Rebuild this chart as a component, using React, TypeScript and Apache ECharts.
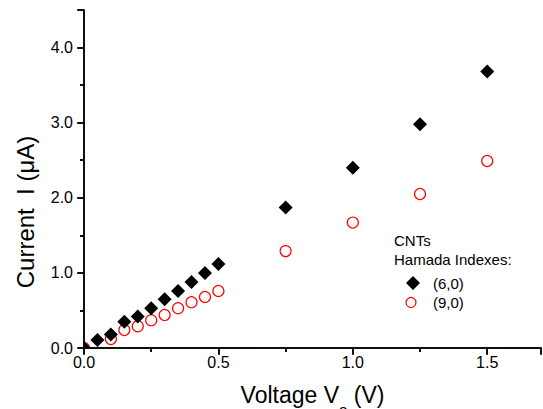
import React, { useEffect, useRef } from "react";
import * as echarts from "echarts";

const voltage60 = [0, 0.05, 0.1, 0.15, 0.2, 0.25, 0.3, 0.35, 0.4, 0.45, 0.5, 0.75, 1.0, 1.25, 1.5];
const current60 = [0, 0.107, 0.18, 0.35, 0.42, 0.53, 0.65, 0.76, 0.88, 1.0, 1.12, 1.87, 2.4, 2.98, 3.68];
const voltage90 = [0, 0.1, 0.15, 0.2, 0.25, 0.3, 0.35, 0.4, 0.45, 0.5, 0.75, 1.0, 1.25, 1.5];
const current90 = [0, 0.12, 0.24, 0.29, 0.37, 0.44, 0.53, 0.61, 0.68, 0.76, 1.29, 1.67, 2.05, 2.49];
const legendTitle = ["CNTs", "Hamada Indexes:"];
const seriesNames = ["(6,0)", "(9,0)"];

const FONT = "'Liberation Sans', Arial, sans-serif";

export default function App() {
  const ref = useRef<HTMLDivElement>(null);
  useEffect(() => {
    if (!ref.current) return;
    const chart = echarts.init(ref.current, undefined, { renderer: "svg" });
    const axisLine = { show: true, lineStyle: { color: "#000", width: 1.5 } };
    chart.setOption({
      animation: false,
      backgroundColor: "#fff",
      grid: { left: 84, right: 2, top: 10, bottom: 61, containLabel: false, outerBoundsMode: "none" },
      xAxis: [
        {
          type: "value",
          position: "bottom",
          min: 0,
          max: 1.7,
          interval: 0.5,
          axisLine,
          axisTick: { show: true, inside: false, length: 7, lineStyle: { color: "#000", width: 1.5 } },
          minorTick: { show: true, splitNumber: 2, length: 4, lineStyle: { color: "#000", width: 1.5 } },
          splitLine: { show: false },
          axisLabel: {
            showMaxLabel: false,
            margin: 6,
            color: "#000",
            fontSize: 16,
            fontFamily: FONT,
            formatter: (v: number) => v.toFixed(1),
          },
          name: "{a|Voltage V}{s|o}{a| (V)}",
          nameLocation: "middle",
          nameGap: 35,
          nameTextStyle: {
            rich: {
              a: { fontSize: 23, fontFamily: FONT, color: "#000", lineHeight: 23, verticalAlign: "top" },
              s: { fontSize: 15, fontFamily: FONT, color: "#000", lineHeight: 52, verticalAlign: "middle" },
            },
          },
        },
        {
          type: "value",
          position: "top",
          min: 0,
          max: 1.7,
          interval: 0.5,
          axisLine,
          axisTick: { show: true, inside: true, length: 6, lineStyle: { color: "#000", width: 1.5 } },
          minorTick: { show: true, splitNumber: 2, length: 4, lineStyle: { color: "#000", width: 1.5 } },
          splitLine: { show: false },
          axisLabel: { show: false },
        },
      ],
      yAxis: [
        {
          type: "value",
          position: "left",
          min: 0,
          max: 4.5,
          interval: 1,
          axisLine,
          axisTick: { show: true, inside: false, length: 7, lineStyle: { color: "#000", width: 1.5 } },
          minorTick: { show: true, splitNumber: 2, length: 4, lineStyle: { color: "#000", width: 1.5 } },
          splitLine: { show: false },
          axisLabel: {
            showMaxLabel: false,
            margin: 11,
            color: "#000",
            fontSize: 16,
            fontFamily: FONT,
            formatter: (v: number) => v.toFixed(1),
          },
          name: "Current  I (\u03bcA)",
          nameLocation: "middle",
          nameGap: 47,
          nameTextStyle: { fontSize: 24, fontFamily: FONT, color: "#000", padding: [0, 66, 0, 0] },
        },
        {
          type: "value",
          position: "right",
          min: 0,
          max: 4.5,
          interval: 1,
          axisLine,
          axisTick: { show: true, inside: true, length: 6, lineStyle: { color: "#000", width: 1.5 } },
          minorTick: { show: true, splitNumber: 2, length: 4, lineStyle: { color: "#000", width: 1.5 } },
          splitLine: { show: false },
          axisLabel: { show: false },
        },
      ],
      graphic: [
        { type: "text", left: 394, top: 233, style: { text: legendTitle[0], font: `15px ${FONT}`, fill: "#000" } },
        { type: "text", left: 394, top: 252, style: { text: legendTitle[1], font: `15px ${FONT}`, fill: "#000" } },
        {
          type: "polygon",
          shape: { points: [[413, 276], [420, 283], [413, 290], [406, 283]] },
          style: { fill: "#000" },
        },
        { type: "text", left: 433, top: 276, style: { text: seriesNames[0], font: `15px ${FONT}`, fill: "#000" } },
        {
          type: "circle",
          shape: { cx: 411, cy: 302.5, r: 5 },
          style: { fill: "none", stroke: "#ff0000", lineWidth: 1.2 },
        },
        { type: "text", left: 433, top: 295, style: { text: seriesNames[1], font: `15px ${FONT}`, fill: "#000" } },
      ],
      series: [
        {
          name: seriesNames[1],
          type: "custom",
          xAxisIndex: 0,
          yAxisIndex: 0,
          clip: true,
          encode: { x: 0, y: 1 },
          renderItem: (_params: any, api: any) => {
            const p = api.coord([api.value(0), api.value(1)]);
            return {
              type: "circle",
              shape: { cx: p[0], cy: p[1], r: 5.5 },
              style: { fill: "none", stroke: "#ff0000", lineWidth: 1.2 },
            };
          },
          data: voltage90.map((v, i) => [v, current90[i]]),
        },
        {
          name: seriesNames[0],
          type: "custom",
          xAxisIndex: 0,
          yAxisIndex: 0,
          clip: true,
          encode: { x: 0, y: 1 },
          renderItem: (_params: any, api: any) => {
            const p = api.coord([api.value(0), api.value(1)]);
            const h = 7;
            return {
              type: "polygon",
              shape: {
                points: [
                  [p[0], p[1] - h],
                  [p[0] + h, p[1]],
                  [p[0], p[1] + h],
                  [p[0] - h, p[1]],
                ],
              },
              style: { fill: "#000" },
            };
          },
          data: voltage60.map((v, i) => [v, current60[i]]),
        },
      ],
    });
    return () => chart.dispose();
  }, []);
  return <div ref={ref} style={{ width: 543, height: 409, position: "absolute", left: 0, top: 0 }} />;
}
